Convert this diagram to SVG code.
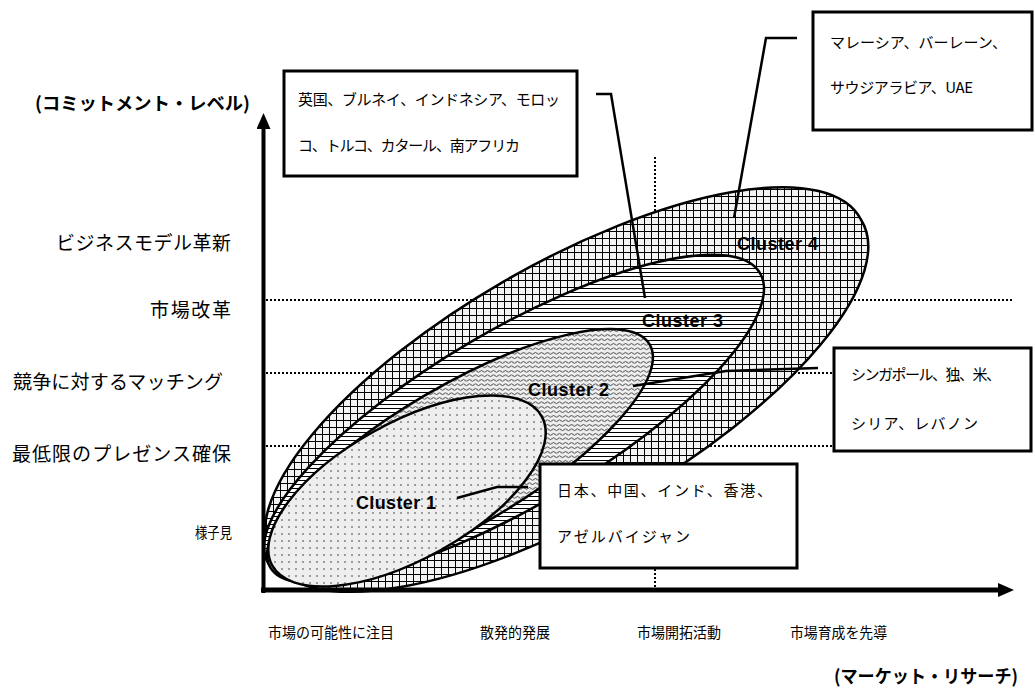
<svg xmlns="http://www.w3.org/2000/svg" width="1035" height="688" viewBox="0 0 1035 688">
<style>
.jp{font-family:"Noto Sans CJK JP","Noto Sans",sans-serif;fill:#000}
.lbl{font-size:19px}
.ax{font-size:14.5px}
.bx{font-size:15px}
.ttl{font-size:18px;font-weight:bold}
.cl{font-family:"Liberation Sans",Arial,sans-serif;font-weight:bold;font-size:18px;fill:#000}
.dot{stroke:#000;stroke-width:2;stroke-dasharray:2 2;fill:none}
.ell{stroke:#000;stroke-width:2.5}
.box{fill:#fff;stroke:#000;stroke-width:3}
.con{fill:none;stroke:#000;stroke-width:2.5}
</style>
<defs>
<pattern id="grid" patternUnits="userSpaceOnUse" width="7" height="7">
<rect width="7" height="7" fill="#f3f3f3"/>
<path d="M0 0.5H7M0.5 0V7" stroke="#000" stroke-width="1"/>
</pattern>
<pattern id="hstripe" patternUnits="userSpaceOnUse" width="8" height="4">
<rect width="8" height="4" fill="#fff"/>
<path d="M0 0.5H8" stroke="#000" stroke-width="1"/>
</pattern>
<pattern id="wave" patternUnits="userSpaceOnUse" width="6" height="4.5">
<rect width="6" height="4.5" fill="#f0f0f0"/>
<path d="M0 2.3Q1.5 0.5 3 2.3T6 2.3" fill="none" stroke="#222" stroke-width="0.9"/>
</pattern>
<pattern id="dots" patternUnits="userSpaceOnUse" width="7" height="7">
<rect width="7" height="7" fill="#eeeeee"/>
<circle cx="2" cy="2" r="0.8" fill="#333"/>
</pattern>
<marker id="arr" markerUnits="userSpaceOnUse" markerWidth="16" markerHeight="14" refX="0" refY="7" orient="auto">
<path d="M0 0L16 7L0 14z" fill="#000"/>
</marker>
</defs>

<g id="gridlines">
<line class="dot" x1="266" y1="300" x2="1012" y2="300"/>
<line class="dot" x1="266" y1="373" x2="1012" y2="373"/>
<line class="dot" x1="266" y1="446" x2="840" y2="446"/>
<line class="dot" x1="655" y1="157" x2="655" y2="588"/>
</g>

<g id="cluster4">
<path class="ell" fill="url(#grid)" d="M272.1 559.5A340 123 -30 1 1 860.9 219.5A340 123 -30 1 1 272.1 559.5Z"/>
<text class="cl" x="737" y="250" textLength="81">Cluster 4</text>
</g>
<g id="cluster3">
<path class="ell" fill="url(#hstripe)" d="M268 562.9A285.5 87.5 -30.5 1 1 760 273.1A285.5 87.5 -30.5 1 1 268 562.9Z"/>
<text class="cl" x="642" y="327" textLength="81">Cluster 3</text>
</g>
<g id="cluster2">
<path class="ell" fill="url(#wave)" d="M270.4 567.7A220 70 -30.5 1 1 649.6 344.3A220 70 -30.5 1 1 270.4 567.7Z"/>
<text class="cl" x="528" y="396" textLength="81">Cluster 2</text>
</g>
<g id="cluster1">
<path class="ell" fill="url(#dots)" d="M272.3 565.7A154 68 -29 1 1 541.7 416.3A154 68 -29 1 1 272.3 565.7Z"/>
<text class="cl" x="356" y="509" textLength="80">Cluster 1</text>
</g>

<g id="axes">
<line x1="263.5" y1="593" x2="263.5" y2="129" stroke="#000" stroke-width="4" marker-end="url(#arr)"/>
<line x1="261" y1="590" x2="998" y2="590" stroke="#000" stroke-width="5" marker-end="url(#arr)"/>
</g>

<g id="connectors">
<polyline class="con" points="596,94 611,94 645,298"/>
<polyline class="con" points="797,38 766,38 734,218"/>
<polyline class="con" points="633,386 726,371 818,368"/>
<polyline class="con" points="457,498 497,487 528,487"/>
</g>

<g id="boxA">
<rect class="box" x="284" y="71" width="293" height="105"/>
<text class="jp bx" x="298" y="105" textLength="262">英国、ブルネイ、インドネシア、モロッ</text>
<text class="jp bx" x="298" y="151" textLength="222">コ、トルコ、カタール、南アフリカ</text>
</g>
<g id="boxB">
<rect class="box" x="813" y="12" width="219" height="118"/>
<text class="jp bx" x="830" y="48" textLength="177">マレーシア、バーレーン、</text>
<text class="jp bx" x="830" y="93" textLength="143">サウジアラビア、UAE</text>
</g>
<g id="boxC">
<rect class="box" x="834" y="348" width="197" height="103"/>
<text class="jp bx" x="851" y="380" textLength="150">シンガポール、独、米、</text>
<text class="jp bx" x="851" y="429" textLength="127">シリア、レバノン</text>
</g>
<g id="boxD">
<rect class="box" x="540" y="464" width="257" height="104"/>
<text class="jp bx" x="557" y="496" textLength="215">日本、中国、インド、香港、</text>
<text class="jp bx" x="557" y="542" textLength="133">アゼルバイジャン</text>
</g>

<g id="labels">
<text class="jp ttl" x="35" y="110" textLength="215" lengthAdjust="spacingAndGlyphs">(コミットメント・レベル)</text>
<text class="jp lbl" x="56" y="250" textLength="175">ビジネスモデル革新</text>
<text class="jp lbl" x="150" y="317" textLength="81">市場改革</text>
<text class="jp lbl" x="13" y="389" textLength="210">競争に対するマッチング</text>
<text class="jp lbl" x="12" y="461" textLength="219">最低限のプレゼンス確保</text>
<text class="jp ax" x="195" y="538" textLength="37" lengthAdjust="spacingAndGlyphs">様子見</text>
<text class="jp ax" x="268" y="638" textLength="126" lengthAdjust="spacingAndGlyphs">市場の可能性に注目</text>
<text class="jp ax" x="480" y="638" textLength="70" lengthAdjust="spacingAndGlyphs">散発的発展</text>
<text class="jp ax" x="637" y="638" textLength="84" lengthAdjust="spacingAndGlyphs">市場開拓活動</text>
<text class="jp ax" x="790" y="638" textLength="97" lengthAdjust="spacingAndGlyphs">市場育成を先導</text>
<text class="jp ttl" x="834" y="683" textLength="184" lengthAdjust="spacingAndGlyphs">(マーケット・リサーチ)</text>
</g>
</svg>
